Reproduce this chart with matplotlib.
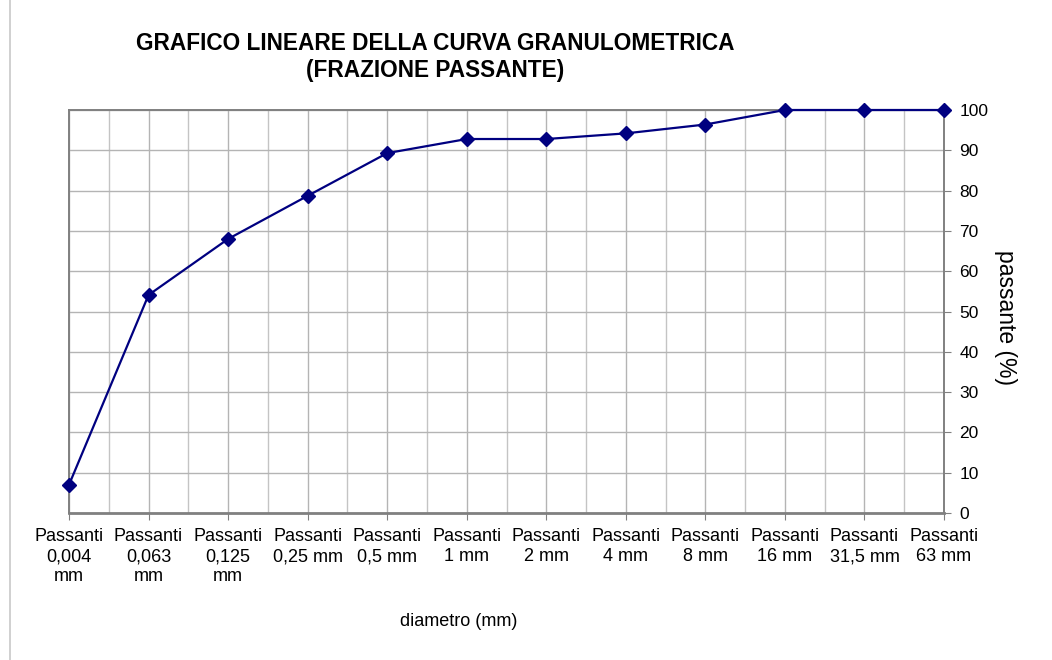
import matplotlib
matplotlib.use("Agg")
import matplotlib.pyplot as plt
from matplotlib.ticker import MultipleLocator
from matplotlib.lines import Line2D

plt.rcParams['font.family'] = ['Liberation Sans', 'DejaVu Sans']

categories = ["Passanti\n0,004\nmm", "Passanti\n0,063\nmm", "Passanti\n0,125\nmm",
              "Passanti\n0,25 mm", "Passanti\n0,5 mm", "Passanti\n1 mm",
              "Passanti\n2 mm", "Passanti\n4 mm", "Passanti\n8 mm",
              "Passanti\n16 mm", "Passanti\n31,5 mm", "Passanti\n63 mm"]
passante = [7.0, 54.1, 68.0, 78.7, 89.3, 92.8, 92.8, 94.2, 96.4, 100, 100, 100]
yticks = [0, 10, 20, 30, 40, 50, 60, 70, 80, 90, 100]

fig = plt.figure(figsize=(10.52, 6.6), dpi=100)
ax = fig.add_axes([69/1052, 1-513/660, (944-69)/1052, (513-110)/660])

x = list(range(len(categories)))
ax.plot(x, passante, color='#000080', linewidth=1.6, marker='D', markersize=7,
        markerfacecolor='#000080', markeredgecolor='#000080', zorder=5, clip_on=False)

ax.set_xlim(0, len(categories) - 1)
ax.set_ylim(0, 100)
ax.set_xticks(x)
ax.set_xticklabels(categories, fontsize=13, linespacing=1.22)
ax.xaxis.set_minor_locator(MultipleLocator(0.5))
ax.set_yticks(yticks)
ax.yaxis.tick_right()
ax.tick_params(axis='y', which='both', labelsize=12.5, length=5, color='#808080', pad=6)
ax.tick_params(axis='x', which='major', length=5, color='#808080', pad=6)
ax.tick_params(axis='x', which='minor', length=0)

ax.grid(True, which='major', axis='both', color='#b4b4b4', linewidth=1.0)
ax.grid(True, which='minor', axis='x', color='#c4c4c4', linewidth=1.0)
ax.set_axisbelow(True)

for s in ['left', 'top', 'right']:
    ax.spines[s].set_color('#808080')
    ax.spines[s].set_linewidth(1.4)
ax.spines['bottom'].set_color('#808080')
ax.spines['bottom'].set_linewidth(2.0)

fig.text(435/1052, 1-43/660, "GRAFICO LINEARE DELLA CURVA GRANULOMETRICA",
         ha='center', va='center', fontsize=16.3, fontweight='bold')
fig.text(435/1052, 1-70/660, "(FRAZIONE PASSANTE)",
         ha='center', va='center', fontsize=16.3, fontweight='bold')
fig.text(459/1052, 1-622/660, "diametro (mm)", ha='center', va='center', fontsize=13)
fig.text(1005/1052, 1-318/660, "passante (%)", ha='center', va='center',
         fontsize=16.5, rotation=270)

fig.add_artist(Line2D([10/1052, 10/1052], [0, 1], transform=fig.transFigure,
                      color='#c8c8c8', linewidth=1.2))

fig.savefig("out.png", dpi=100)
